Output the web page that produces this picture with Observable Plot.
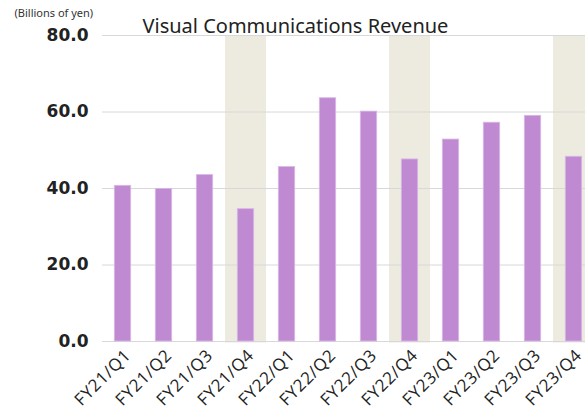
<!DOCTYPE html>
<html>
<head>
<meta charset="utf-8">
<script src="https://cdn.jsdelivr.net/npm/d3@7"></script>
<script src="https://cdn.jsdelivr.net/npm/@observablehq/plot@0.6"></script>
<style>
html, body { margin: 0; padding: 0; background: #fff; overflow: hidden; }
#chart svg { overflow: hidden; }
#chart g[aria-label="x-axis tick label"] text { letter-spacing: 0.6px; }
</style>
</head>
<body>
<div id="chart"></div>
<script>
const quarters = ["FY21/Q1","FY21/Q2","FY21/Q3","FY21/Q4","FY22/Q1","FY22/Q2","FY22/Q3","FY22/Q4","FY23/Q1","FY23/Q2","FY23/Q3","FY23/Q4"];
const revenue = [40.7, 39.9, 43.5, 34.6, 45.6, 63.6, 60.1, 47.6, 52.8, 57.2, 59.0, 48.3];
const highlighted = ["FY21/Q4","FY22/Q4","FY23/Q4"];
const yTicks = [0, 20, 40, 60, 80];
const titleText = "Visual Communications Revenue";
const unitText = "(Billions of yen)";

const data = quarters.map((q, i) => ({quarter: q, value: revenue[i]}));
const font = "'DejaVu Sans', sans-serif";

const chart = Plot.plot({
  width: 585,
  height: 411,
  marginLeft: 102,
  marginRight: -9,
  marginTop: 35,
  marginBottom: 70,
  style: {fontFamily: font, background: "#fff", color: "#222"},
  x: {domain: quarters, padding: 0, label: null},
  y: {domain: [0, 80], label: null},
  marks: [
    Plot.rectY(highlighted, {x: d => d, y1: -0.4, y2: 80, fill: "#edeae0"}),
    Plot.gridY(yTicks, {stroke: "#d8d8d8", strokeOpacity: 1, strokeWidth: 1}),
    Plot.barY(data, {x: "quarter", y: "value", fill: "#bf8ad2", stroke: "#d9b8e6", strokeWidth: 0.8, insetLeft: 12.3, insetRight: 12.3}),
    Plot.axisY(yTicks, {tickSize: 0, tickPadding: 14, tickFormat: d3.format(".1f"), fontSize: 17, fontWeight: "bold", fill: "#222"}),
    Plot.axisX({tickSize: 0, tickPadding: 11, dx: 5, tickRotate: -45, fontSize: 17, fontFamily: "'Open Sans', sans-serif", fontWeight: "normal", fill: "#222"}),
    Plot.text([titleText], {frameAnchor: "top-left", dx: 40, dy: -17, text: d => d, fontSize: 20, fontFamily: "'Noto Sans', sans-serif", fill: "#222", textAnchor: "start"}),
    Plot.text([unitText], {frameAnchor: "top-left", dx: -88, dy: -26, text: d => d, fontSize: 11, fontFamily: "'Noto Sans', sans-serif", fill: "#333", textAnchor: "start"})
  ]
});
document.getElementById("chart").appendChild(chart);
</script>
</body>
</html>
